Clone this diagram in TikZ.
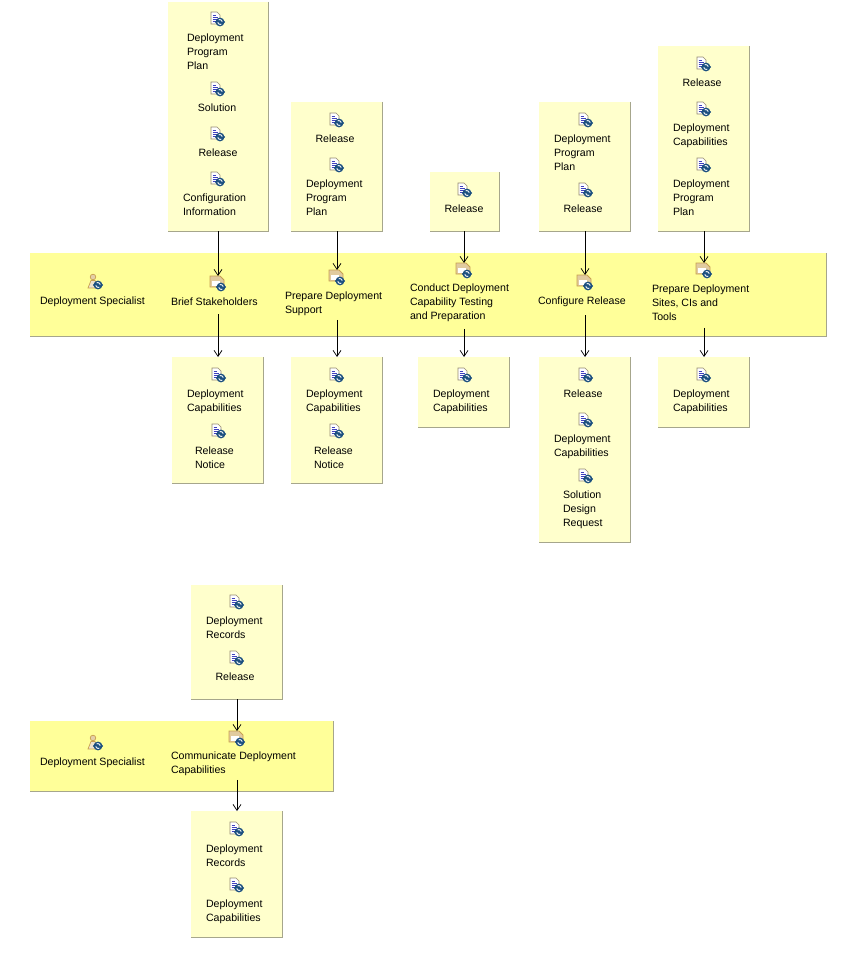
\documentclass[tikz,border=0pt]{standalone}
\usepackage{fontspec}
\setmainfont{Liberation Sans}
\usetikzlibrary{arrows.meta}
\definecolor{boxfill}{HTML}{FFFFCC}
\definecolor{bandfill}{HTML}{FFFF99}
\definecolor{edgec}{HTML}{A6A68C}
\definecolor{iconblue}{HTML}{1B4F7F}
\definecolor{icontan}{HTML}{C8A050}
\tikzset{
  x=1pt,y=-1pt,
  boxn/.style={fill=boxfill,draw=none,inner sep=0,outer sep=0},
  bandn/.style={fill=bandfill,draw=none,inner sep=0,outer sep=0},
  edgeln/.style={draw=edgec,line width=0.9pt},
  lab/.style={font=\fontsize{10.6}{14}\selectfont,inner sep=0,outer sep=0,align=left,anchor=west,text=black,yshift=-1pt},
  clab/.style={font=\fontsize{10.6}{14}\selectfont,inner sep=0,outer sep=0,align=center,text=black,yshift=-1pt},
  iconn/.style={inner sep=0,outer sep=0,minimum width=14,minimum height=14},
  arr/.style={draw=black,line width=0.9pt,-{Straight Barb[length=6pt,width=8pt,line width=0.7pt]}},
  swirl/.pic={
    \fill[iconblue] (3,3) circle[radius=4.4];
    \draw[white,line width=0.9pt] (0.7,3) arc[start angle=180,end angle=60,radius=2.4];
    \draw[white,line width=0.9pt] (5.3,3) arc[start angle=0,end angle=-120,radius=2.4];
    \fill[iconblue] (-2.2,3) -- (0.3,0.7) -- (0.3,5.3) -- cycle;
    \fill[iconblue] (8.2,3) -- (5.7,0.7) -- (5.7,5.3) -- cycle;
  },
  docicon/.pic={
    \filldraw[fill=white,draw=gray!70!icontan,line width=0.6pt] (-6,-7) -- (0,-7) -- (3,-4) -- (3,5) -- (-6,5) -- cycle;
    \draw[blue!50!gray,line width=0.6pt] (-4.5,-4)--(-1,-4) (-4.5,-2)--(1,-2) (-4.5,0)--(1,0) (-4.5,2)--(-1,2);
    \pic {swirl};
  },
  taskicon/.pic={
    \filldraw[fill=icontan!55,draw=icontan,line width=0.8pt] (-8,-7) -- (2,-7) -- (6,-3) -- (6,4) -- (-8,4) -- cycle;
    \fill[white] (-6.5,-2) -- (2,-2) -- (2,2.8) -- (-6.5,2.8) -- cycle;
    \pic[yshift=-1pt] {swirl};
  },
  roleicon/.pic={
    \filldraw[fill=icontan!50,draw=icontan,line width=0.7pt] (-2,-5) circle[radius=2.8];
    \filldraw[fill=icontan!30,draw=icontan,line width=0.7pt] (-7,6) -- (-4,-1.5) -- (0,-1.5) -- (3,6) -- cycle;
    \pic {swirl};
  },
}
\newcommand{\abox}[6]{%
  \node[#1,minimum width=#5-#3-0.7,minimum height=#6-#4-0.7] (#2) at ({(#3+#5-0.7)/2},{(#4+#6-0.7)/2}) {};
  \draw[edgeln] (#2.north east) -- (#2.south east) -- (#2.south west);
}
\newcommand{\dico}[3]{\node[iconn] (#1) at (#2,#3) {}; \pic at (#2,#3) {docicon};}
\newcommand{\tico}[3]{\node[iconn] (#1) at (#2,#3) {}; \pic at (#2,#3) {taskicon};}
\newcommand{\rico}[3]{\node[iconn] (#1) at (#2,#3) {}; \pic at (#2,#3) {roleicon};}
\newcommand{\lt}[4]{\node[lab] (#1) at (#2,#3) {#4};}
\newcommand{\ct}[4]{\node[clab] (#1) at (#2,#3) {#4};}
\begin{document}
\begin{tikzpicture}
\useasboundingbox (0,0) rectangle (847,979);
\fill[white] (0,0) rectangle (847,979);
% Input boxes
\abox{boxn}{ib1}{168}{2}{269}{232}
\abox{boxn}{ib2}{291}{102}{383}{232}
\abox{boxn}{ib3}{430}{172}{500}{232}
\abox{boxn}{ib4}{539}{102}{631}{232}
\abox{boxn}{ib5}{658}{46}{750}{232}
% Band
\abox{bandn}{band1}{30}{253}{827}{337}
% Output boxes
\abox{boxn}{ob1}{172}{357}{264}{484}
\abox{boxn}{ob2}{291}{357}{383}{484}
\abox{boxn}{ob3}{418}{357}{510}{428}
\abox{boxn}{ob4}{539}{357}{631}{543}
\abox{boxn}{ob5}{658}{357}{750}{428}
% Lower group
\abox{boxn}{ib6}{191}{585}{283}{700}
\abox{bandn}{band2}{30}{721}{334}{792}
\abox{boxn}{ob6}{191}{811}{283}{938}
% Box 1
\dico{a1}{217}{19}\lt{a1t}{187}{51}{Deployment\\Program\\Plan}
\dico{a2}{217}{89}\ct{a2t}{217}{107}{Solution}
\dico{a3}{217}{134}\ct{a3t}{218}{152}{Release}
\dico{a4}{217}{179}\lt{a4t}{183}{204}{Configuration\\Information}
% Box 2
\dico{b1}{336}{120}\ct{b1t}{335}{138}{Release}
\dico{b2}{336}{165}\lt{b2t}{306}{197}{Deployment\\Program\\Plan}
% Box 3
\dico{c1}{464}{190}\ct{c1t}{464}{208}{Release}
% Box 4
\dico{d1}{585}{120}\lt{d1t}{554}{152}{Deployment\\Program\\Plan}
\dico{d2}{585}{190}\ct{d2t}{583}{208}{Release}
% Box 5
\dico{e1}{703}{64}\ct{e1t}{702}{82}{Release}
\dico{e2}{703}{109}\lt{e2t}{673}{135}{Deployment\\Capabilities}
\dico{e3}{703}{165}\lt{e3t}{673}{197}{Deployment\\Program\\Plan}
% Band 1
\rico{r1}{95}{282}\lt{r1t}{40}{300.5}{Deployment Specialist}
\tico{t1}{218}{283}\lt{t1t}{171}{300.5}{Brief Stakeholders}
\tico{t2}{337}{277}\lt{t2t}{285}{303}{Prepare Deployment\\Support}
\tico{t3}{464}{270}\lt{t3t}{410}{302}{Conduct Deployment\\Capability Testing\\and Preparation}
\tico{t4}{585}{282}\lt{t4t}{538}{300.5}{Configure Release}
\tico{t5}{704}{270}\lt{t5t}{652}{302}{Prepare Deployment\\Sites, CIs and\\Tools}
% Output 1
\dico{f1}{218}{375}\lt{f1t}{187}{401}{Deployment\\Capabilities}
\dico{f2}{218}{431}\lt{f2t}{195}{457}{Release\\Notice}
% Output 2
\dico{g1}{336}{375}\lt{g1t}{306}{401}{Deployment\\Capabilities}
\dico{g2}{336}{431}\lt{g2t}{314}{457}{Release\\Notice}
% Output 3
\dico{h1}{464}{375}\lt{h1t}{433}{401}{Deployment\\Capabilities}
% Output 4
\dico{i1}{585}{375}\ct{i1t}{583}{393}{Release}
\dico{i2}{585}{420}\lt{i2t}{554}{446}{Deployment\\Capabilities}
\dico{i3}{585}{476}\lt{i3t}{563}{509}{Solution\\Design\\Request}
% Output 5
\dico{j1}{703}{375}\lt{j1t}{673}{401}{Deployment\\Capabilities}
% Lower input
\dico{k1}{236}{602}\lt{k1t}{206}{627}{Deployment\\Records}
\dico{k2}{236}{658}\ct{k2t}{235}{676}{Release}
% Band 2
\rico{r2}{95}{743}\lt{r2t}{40}{761.5}{Deployment Specialist}
\tico{t6}{237}{738}\lt{t6t}{171}{763}{Communicate Deployment\\Capabilities}
% Lower output
\dico{l1}{236}{829}\lt{l1t}{206}{855}{Deployment\\Records}
\dico{l2}{236}{885}\lt{l2t}{206}{911}{Deployment\\Capabilities}
% Connectors
\draw[arr] (ib1.south -| t1) -- (t1.north);
\draw[arr] (ib2.south -| t2) -- (t2.north);
\draw[arr] (ib3.south -| t3) -- (t3.north);
\draw[arr] (ib4.south -| t4) -- (t4.north);
\draw[arr] (ib5.south -| t5) -- (t5.north);
\draw[arr] (t1t.south -| t1) ++(0,9) -- (ob1.north -| t1);
\draw[arr] (t2t.south -| t2) ++(0,4) -- (ob2.north -| t2);
\draw[arr] (t3t.south -| t3) ++(0,7) -- (ob3.north -| t3);
\draw[arr] (t4t.south -| t4) ++(0,9) -- (ob4.north -| t4);
\draw[arr] (t5t.south -| t5) ++(0,7) -- (ob5.north -| t5);
\draw[arr] (ib6.south -| t6) -- (t6.north);
\draw[arr] (t6t.south -| t6) ++(0,4) -- (ob6.north -| t6);
\end{tikzpicture}
\end{document}
